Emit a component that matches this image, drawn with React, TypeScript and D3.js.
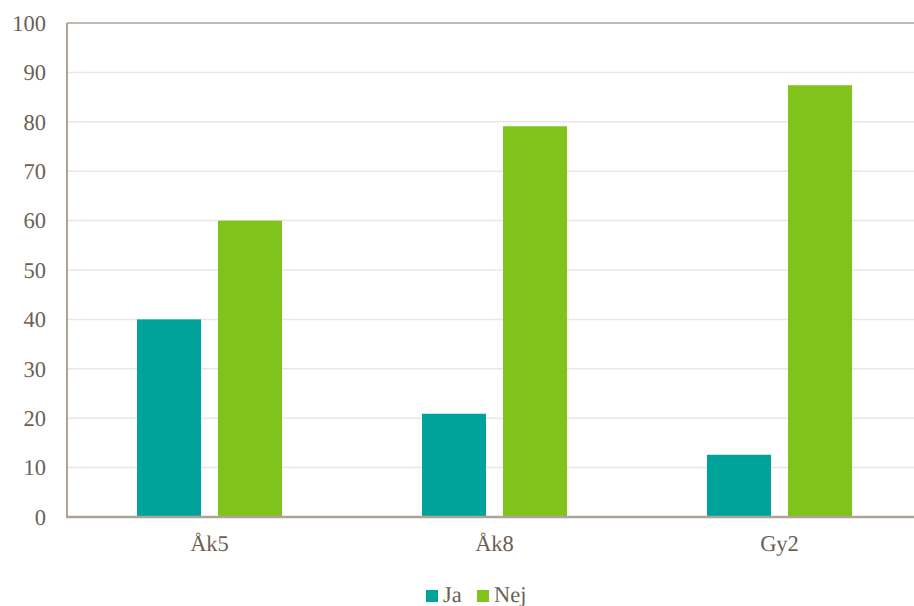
import React from "react";
import * as d3 from "d3";

const categories = ["Åk5", "Åk8", "Gy2"];
const seriesNames = ["Ja", "Nej"];
const jaValues = [40, 20.9, 12.6];
const nejValues = [60, 79.1, 87.4];
const yTicks = [0, 10, 20, 30, 40, 50, 60, 70, 80, 90, 100];
const colors = ["#00a399", "#80c31a"];

const W = 914;
const H = 606;
const left = 67;
const right = 922;
const top = 23;
const bottom = 517;
const font = "Liberation Serif";
const textColor = "#6b5f55";
const axisColor = "#ada399";
const gridColor = "#ebe6e4";

export default function App() {
  const x = d3.scaleBand<string>().domain(categories).range([left, right]).padding(0);
  const xs = d3
    .scaleBand<string>()
    .domain(seriesNames)
    .range([0, x.bandwidth()])
    .paddingInner(17 / 81)
    .paddingOuter(0.864);
  const y = d3.scaleLinear().domain([0, 100]).range([bottom, top]);
  const series = [jaValues, nejValues];

  return (
    <svg
      width={W}
      height={H}
      textRendering="geometricPrecision"
      style={{ position: "absolute", left: 0, top: 0, background: "#fff" }}
    >
      {yTicks.slice(1, -1).map((t) => (
        <line key={t} x1={left} x2={W} y1={y(t)} y2={y(t)} stroke={gridColor} strokeWidth={1.5} />
      ))}
      <line x1={left} x2={W} y1={y(100)} y2={y(100)} stroke={axisColor} strokeWidth={1.5} />
      {series.map((vals, si) =>
        categories.map((c, ci) => (
          <rect
            key={`${si}-${ci}`}
            x={(x(c) as number) + (xs(seriesNames[si]) as number)}
            width={xs.bandwidth()}
            y={y(vals[ci])}
            height={y(0) - y(vals[ci])}
            fill={colors[si]}
          />
        ))
      )}
      <line x1={left} x2={left} y1={top} y2={bottom} stroke={axisColor} strokeWidth={2} />
      <line x1={left - 1} x2={W} y1={bottom} y2={bottom} stroke={axisColor} strokeWidth={2.5} />
      {yTicks.map((t) => (
        <text key={t} x={46} y={y(t)} dy="0.35em" textAnchor="end" fontFamily={font} fontSize={22.5} fill={textColor}>
          {t}
        </text>
      ))}
      {categories.map((c) => (
        <text
          key={c}
          x={(x(c) as number) + x.bandwidth() / 2}
          y={551}
          textAnchor="middle"
          fontFamily={font}
          fontSize={22.5}
          fill={textColor}
        >
          {c}
        </text>
      ))}
      {seriesNames.map((s, i) => {
        const lx = i === 0 ? 426 : 477;
        return (
          <g key={s}>
            <rect x={lx} y={590} width={12} height={12} fill={colors[i]} />
            <text x={lx + 17} y={602} fontFamily={font} fontSize={22.5} fill={textColor}>
              {s}
            </text>
          </g>
        );
      })}
    </svg>
  );
}
